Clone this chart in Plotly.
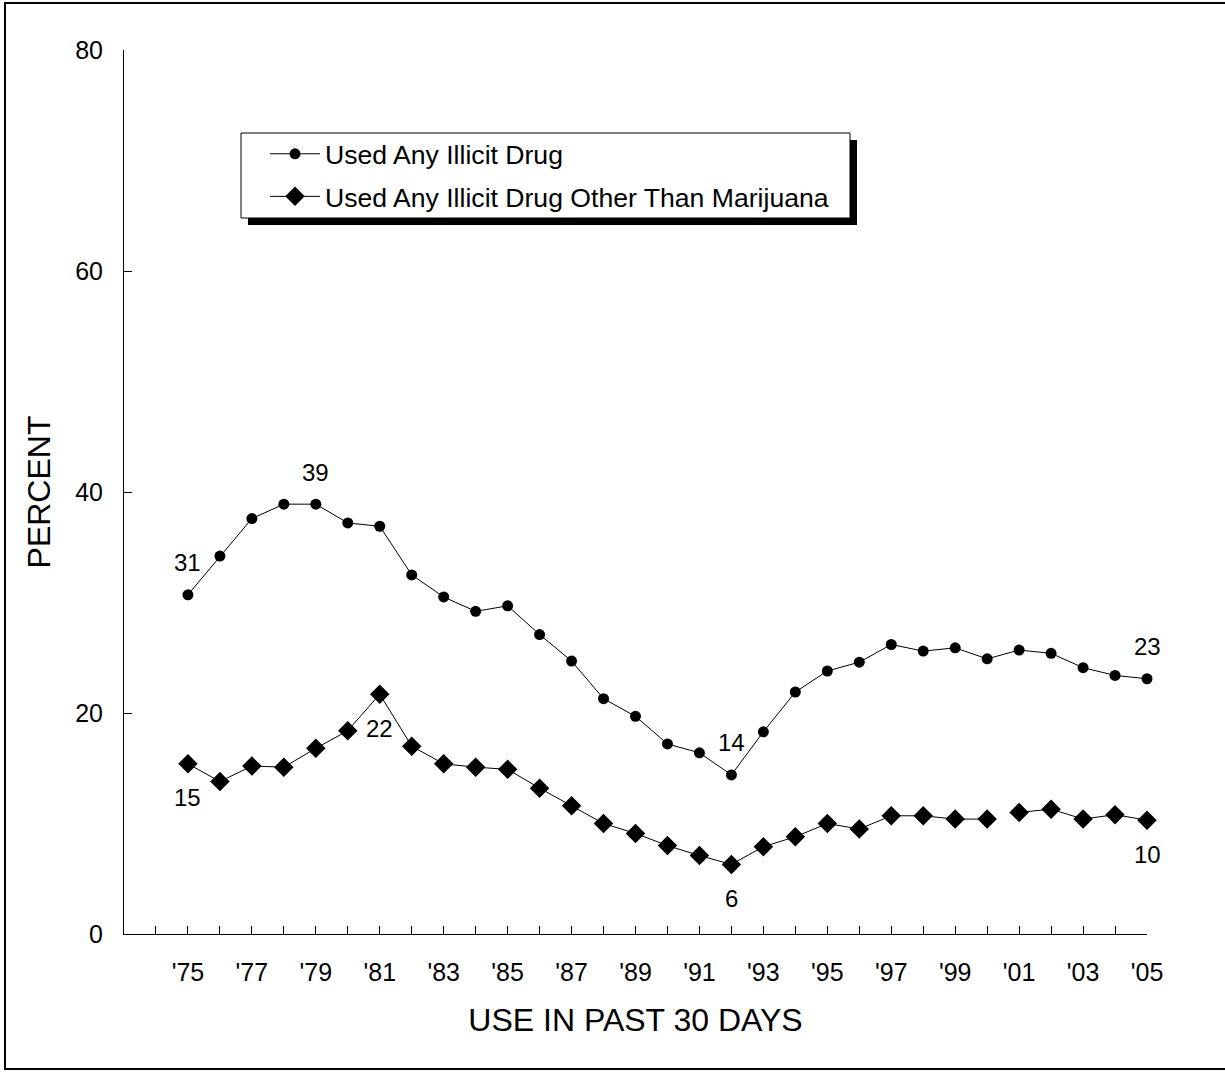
import plotly.graph_objects as go

years = list(range(1975, 2006))
any_illicit = [30.7, 34.2, 37.6, 38.9, 38.9, 37.2, 36.9, 32.5, 30.5, 29.2, 29.7, 27.1,
               24.7, 21.3, 19.7, 17.2, 16.4, 14.4, 18.3, 21.9, 23.8, 24.6, 26.2, 25.6,
               25.9, 24.9, 25.7, 25.4, 24.1, 23.4, 23.1]
other_than_mj = [15.4, 13.8, 15.2, 15.1, 16.8, 18.4, 21.7, 17.0, 15.4, 15.1, 14.9, 13.2,
                 11.6, 10.0, 9.1, 8.0, 7.1, 6.3, 7.9, 8.8, 10.0, 9.5, 10.7, 10.7,
                 10.4, 10.4, 11.0, 11.3, 10.4, 10.8, 10.3]
break_after_year = 2000  # questionnaire change: line not connected between '00 and '01

tick_years = list(range(1974, 2006))
tick_text = ["'" + str(y)[2:] if y % 2 == 1 else "" for y in tick_years]
y_ticks = [0, 20, 40, 60, 80]

# labelled points: (year, direction: 1 above, -1 below)
labels_any = [(1975, 1), (1979, 1), (1992, 1), (2005, 1)]
labels_other = [(1975, -1), (1981, -1), (1992, -1), (2005, -1)]

FONT = "Liberation Sans, Arial, sans-serif"

x2, y2 = [], []
for yr, v in zip(years, other_than_mj):
    x2.append(yr)
    y2.append(v)
    if yr == break_after_year:
        x2.append(None)
        y2.append(None)

fig = go.Figure()
fig.add_trace(go.Scatter(
    x=years, y=any_illicit, mode="lines+markers", name="Used Any Illicit Drug",
    legendgroup="a",
    line=dict(color="black", width=1), marker=dict(symbol="circle", size=11, color="black"),
    cliponaxis=False, connectgaps=False))
fig.add_trace(go.Scatter(
    x=x2, y=y2, mode="lines+markers", name="Used Any Illicit Drug Other Than Marijuana",
    legendgroup="b",
    line=dict(color="black", width=1), marker=dict(symbol="diamond", size=15, color="black"),
    cliponaxis=False, connectgaps=False))

ann = []
for yr, d in labels_any:
    v = any_illicit[years.index(yr)]
    ann.append(dict(x=yr, y=v, text=str(round(v)), showarrow=False, yshift=32 * d,
                    font=dict(size=24, family=FONT, color="black")))
for yr, d in labels_other:
    v = other_than_mj[years.index(yr)]
    ann.append(dict(x=yr, y=v, text=str(round(v)), showarrow=False, yshift=34 * d,
                    font=dict(size=24, family=FONT, color="black")))

W, H = 1225, 1072
L, R, T, B = 124, 78, 50, 138
pw, ph = W - L - R, H - T - B

def px(x):
    return (x - L) / pw

def py(y):
    return (H - B - y) / ph

shapes = [
    dict(type="rect", xref="paper", yref="paper", x0=px(5), x1=px(1240), y0=py(1069), y1=py(3),
         line=dict(color="black", width=2), fillcolor="rgba(0,0,0,0)", layer="below"),
    dict(type="rect", xref="paper", yref="paper", x0=px(248), x1=px(857), y0=py(225), y1=py(140),
         line=dict(color="black", width=0), fillcolor="black", layer="below"),
    dict(type="rect", xref="paper", yref="paper", x0=px(241), x1=px(850), y0=py(218), y1=py(133),
         line=dict(color="black", width=1), fillcolor="white", layer="below"),
]

fig.update_layout(
    width=W, height=H, margin=dict(l=L, r=R, t=T, b=B),
    paper_bgcolor="white", plot_bgcolor="white",
    font=dict(family=FONT, color="black", size=20),
    showlegend=True,
    legend=dict(x=px(265), y=py(130), xanchor="left", yanchor="top",
                bgcolor="rgba(0,0,0,0)", borderwidth=0,
                font=dict(size=26.6, family=FONT), itemwidth=50, tracegroupgap=5),
    annotations=ann, shapes=shapes,
    xaxis=dict(range=[1973, 2005], tickvals=tick_years, ticktext=tick_text,
               ticks="inside", ticklen=8, tickcolor="black", showline=True,
               linecolor="black", linewidth=1, showgrid=False, zeroline=False,
               tickfont=dict(size=25), ticklabelstandoff=16,
               title=dict(text="USE IN PAST 30 DAYS", font=dict(size=32), standoff=23)),
    yaxis=dict(range=[0, 80], tickvals=y_ticks, ticks="inside", ticklen=8, tickcolor="black",
               showline=True, linecolor="black", linewidth=1, showgrid=False, zeroline=False,
               tickfont=dict(size=25), ticklabelstandoff=15,
               title=dict(text="PERCENT", font=dict(size=32), standoff=14)),
)

fig.write_html("out.html", config={"displayModeBar": False},
               post_script="document.body.style.margin='0';")
